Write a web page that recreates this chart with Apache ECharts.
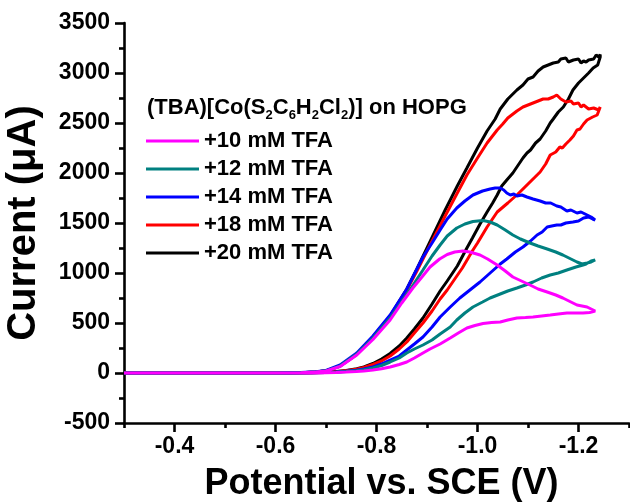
<!DOCTYPE html>
<html>
<head>
<meta charset="utf-8">
<script src="https://cdn.jsdelivr.net/npm/echarts@6/dist/echarts.min.js"></script>
<style>html,body{margin:0;padding:0;background:#fff;}#c{width:630px;height:504px;}</style>
</head>
<body>
<div id="c"></div>
<script>
// ---- data: [potential (V vs SCE), current (uA)] ----
const seriesNames = ['+10 mM TFA', '+12 mM TFA', '+14 mM TFA', '+18 mM TFA', '+20 mM TFA'];
const xMajorTicks = [-1.2, -1.0, -0.8, -0.6, -0.4];
const xMinorTicks = [-1.3, -1.1, -0.9, -0.7, -0.5, -0.3];

const tfa10Fwd = [[-0.30,0],[-0.60,0],[-0.65,3],[-0.68,9],[-0.70,20],[-0.728,65],[-0.761,180],[-0.793,335],[-0.827,530],[-0.850,700],[-0.872,850],[-0.89,960],[-0.906,1060],[-0.925,1140],[-0.940,1185],[-0.955,1210],[-0.971,1220],[-0.985,1210],[-1.005,1180],[-1.02,1140],[-1.039,1080],[-1.055,1020],[-1.070,960],[-1.087,920],[-1.104,880],[-1.12,840],[-1.138,810],[-1.155,780],[-1.169,750],[-1.185,710],[-1.197,680],[-1.207,670],[-1.217,660],[-1.225,640],[-1.233,620]];
const tfa10Rev = [[-1.233,615],[-1.222,605],[-1.209,600],[-1.19,600],[-1.177,600],[-1.16,590],[-1.144,580],[-1.127,570],[-1.11,560],[-1.095,555],[-1.078,550],[-1.06,530],[-1.045,510],[-1.028,505],[-1.011,495],[-0.995,475],[-0.979,450],[-0.962,400],[-0.946,350],[-0.926,290],[-0.906,240],[-0.892,200],[-0.875,150],[-0.860,110],[-0.845,85],[-0.827,60],[-0.81,42],[-0.793,30],[-0.775,20],[-0.76,14],[-0.74,9],[-0.72,5],[-0.70,3],[-0.67,1],[-0.63,0],[-0.60,0],[-0.30,0]];

const tfa12Fwd = [[-0.30,0],[-0.60,0],[-0.65,3],[-0.68,10],[-0.70,22],[-0.728,72],[-0.761,190],[-0.793,350],[-0.827,550],[-0.866,830],[-0.892,1030],[-0.91,1170],[-0.926,1280],[-0.94,1370],[-0.959,1450],[-0.975,1490],[-0.991,1515],[-1.011,1525],[-1.025,1510],[-1.039,1480],[-1.055,1430],[-1.07,1380],[-1.085,1340],[-1.104,1300],[-1.12,1270],[-1.138,1240],[-1.155,1210],[-1.169,1180],[-1.185,1140],[-1.197,1110],[-1.207,1090],[-1.217,1100],[-1.225,1110],[-1.233,1130]];
const tfa12Rev = [[-1.233,1125],[-1.225,1120],[-1.215,1090],[-1.209,1080],[-1.195,1060],[-1.177,1030],[-1.16,1000],[-1.144,980],[-1.127,950],[-1.11,910],[-1.095,880],[-1.078,850],[-1.06,820],[-1.045,790],[-1.025,750],[-1.01,710],[-0.991,660],[-0.975,600],[-0.959,530],[-0.946,460],[-0.926,390],[-0.91,330],[-0.892,280],[-0.875,240],[-0.860,200],[-0.845,150],[-0.827,110],[-0.81,75],[-0.793,50],[-0.775,33],[-0.76,23],[-0.74,14],[-0.72,8],[-0.70,4],[-0.67,2],[-0.63,1],[-0.60,0],[-0.30,0]];

const tfa14Fwd = [[-0.30,0],[-0.60,0],[-0.65,4],[-0.68,12],[-0.70,25],[-0.728,80],[-0.761,200],[-0.793,370],[-0.827,580],[-0.860,840],[-0.876,1000],[-0.892,1160],[-0.91,1300],[-0.926,1430],[-0.94,1540],[-0.959,1650],[-0.975,1720],[-0.991,1780],[-1.01,1820],[-1.025,1840],[-1.035,1850],[-1.045,1850],[-1.052,1830],[-1.058,1800],[-1.065,1780],[-1.072,1790],[-1.078,1770],[-1.088,1780],[-1.098,1760],[-1.11,1740],[-1.124,1720],[-1.135,1700],[-1.145,1700],[-1.157,1670],[-1.165,1660],[-1.177,1620],[-1.185,1630],[-1.197,1600],[-1.205,1610],[-1.217,1580],[-1.225,1560],[-1.233,1530]];
const tfa14Rev = [[-1.233,1520],[-1.228,1540],[-1.22,1560],[-1.21,1550],[-1.20,1520],[-1.189,1510],[-1.175,1500],[-1.165,1480],[-1.157,1480],[-1.147,1470],[-1.138,1460],[-1.128,1410],[-1.118,1380],[-1.105,1320],[-1.09,1260],[-1.075,1210],[-1.058,1140],[-1.045,1090],[-1.025,1000],[-1.005,910],[-0.985,830],[-0.965,750],[-0.946,660],[-0.926,560],[-0.91,460],[-0.892,360],[-0.875,290],[-0.860,230],[-0.845,170],[-0.827,130],[-0.81,90],[-0.793,60],[-0.775,40],[-0.76,28],[-0.74,17],[-0.72,10],[-0.70,5],[-0.67,2],[-0.63,1],[-0.60,0],[-0.30,0]];

const tfa18Fwd = [[-0.30,0],[-0.60,0],[-0.65,3],[-0.68,10],[-0.70,22],[-0.728,70],[-0.761,185],[-0.793,350],[-0.827,560],[-0.860,830],[-0.880,1020],[-0.90,1220],[-0.936,1570],[-0.96,1800],[-0.979,1980],[-1.00,2150],[-1.019,2300],[-1.039,2430],[-1.05,2490],[-1.06,2550],[-1.078,2620],[-1.09,2660],[-1.10,2680],[-1.11,2700],[-1.12,2720],[-1.13,2740],[-1.14,2740],[-1.15,2760],[-1.157,2780],[-1.165,2740],[-1.175,2710],[-1.185,2720],[-1.19,2690],[-1.20,2700],[-1.205,2660],[-1.21,2680],[-1.22,2640],[-1.23,2650],[-1.24,2630],[-1.243,2660]];
const tfa18Rev = [[-1.243,2640],[-1.237,2580],[-1.228,2560],[-1.217,2530],[-1.21,2490],[-1.203,2440],[-1.197,2430],[-1.19,2370],[-1.183,2330],[-1.175,2290],[-1.168,2250],[-1.163,2260],[-1.155,2210],[-1.144,2180],[-1.135,2090],[-1.124,2010],[-1.10,1890],[-1.08,1790],[-1.06,1700],[-1.039,1610],[-1.019,1460],[-1.00,1300],[-0.991,1230],[-0.97,1050],[-0.955,940],[-0.94,830],[-0.926,740],[-0.91,620],[-0.892,500],[-0.875,400],[-0.86,310],[-0.845,240],[-0.827,170],[-0.81,120],[-0.793,85],[-0.775,55],[-0.76,38],[-0.74,22],[-0.72,12],[-0.70,6],[-0.67,2],[-0.63,1],[-0.60,0],[-0.30,0]];

const tfa20Fwd = [[-0.30,0],[-0.60,0],[-0.65,3],[-0.68,10],[-0.70,22],[-0.728,70],[-0.761,190],[-0.793,360],[-0.827,570],[-0.860,840],[-0.880,1040],[-0.90,1250],[-0.936,1630],[-0.96,1870],[-0.979,2050],[-1.00,2250],[-1.019,2420],[-1.035,2540],[-1.045,2640],[-1.06,2740],[-1.078,2830],[-1.09,2880],[-1.10,2940],[-1.11,2960],[-1.12,3020],[-1.13,3060],[-1.14,3080],[-1.15,3100],[-1.16,3110],[-1.165,3140],[-1.175,3150],[-1.18,3110],[-1.19,3130],[-1.20,3140],[-1.205,3100],[-1.21,3120],[-1.215,3110],[-1.22,3130],[-1.23,3140],[-1.235,3180],[-1.24,3160],[-1.243,3185]];
const tfa20Rev = [[-1.243,3160],[-1.238,3080],[-1.229,3050],[-1.22,3000],[-1.21,2950],[-1.20,2900],[-1.189,2830],[-1.18,2740],[-1.17,2660],[-1.16,2610],[-1.15,2540],[-1.144,2500],[-1.135,2420],[-1.124,2340],[-1.115,2300],[-1.105,2230],[-1.098,2200],[-1.09,2150],[-1.078,2060],[-1.07,2000],[-1.058,1930],[-1.048,1870],[-1.039,1780],[-1.03,1700],[-1.019,1610],[-1.005,1490],[-0.99,1350],[-0.979,1250],[-0.96,1070],[-0.94,920],[-0.926,820],[-0.91,690],[-0.892,550],[-0.875,440],[-0.860,350],[-0.845,270],[-0.827,195],[-0.81,140],[-0.793,95],[-0.775,60],[-0.761,42],[-0.74,25],[-0.72,14],[-0.70,7],[-0.67,3],[-0.63,1],[-0.60,0],[-0.30,0]];

const colors = ['#FF00FF', '#008080', '#0000FF', '#FF0000', '#000000'];
const loops = [tfa10Fwd.concat(tfa10Rev), tfa12Fwd.concat(tfa12Rev), tfa14Fwd.concat(tfa14Rev), tfa18Fwd.concat(tfa18Rev), tfa20Fwd.concat(tfa20Rev)];

const FONT = 'Liberation Sans, Arial, sans-serif';
const chart = echarts.init(document.getElementById('c'), null, {renderer: 'canvas'});

const series = [];
for (let i = loops.length - 1; i >= 0; i--) {
  series.push({
    name: seriesNames[i], type: 'line', xAxisIndex: 0, yAxisIndex: 0,
    data: loops[i], symbol: 'none', showSymbol: false, smooth: false,
    lineStyle: {color: colors[i], width: 3}, itemStyle: {color: colors[i]},
    z: 10 - i
  });
}

chart.setOption({
  animation: false,
  backgroundColor: '#fff',
  grid: {left: 124, right: 1, top: 23, bottom: 81, containLabel: false, outerBoundsMode: 'none'},
  xAxis: [{
    type: 'value', min: -1.3, max: -0.3, inverse: true, position: 'bottom',
    name: 'Potential vs. SCE (V)', nameLocation: 'middle', nameGap: 43,
    nameTextStyle: {fontSize: 36, fontWeight: 'bold', color: '#000', fontFamily: FONT, padding: [0, 0, 0, 10]},
    axisLine: {show: true, onZero: false, lineStyle: {color: '#000', width: 2.6}},
    axisTick: {show: true, inside: false, length: 9, customValues: xMajorTicks, lineStyle: {color: '#000', width: 2.6}},
    axisLabel: {show: true, margin: 12, customValues: xMajorTicks, fontSize: 23, fontWeight: 'bold', color: '#000', fontFamily: FONT,
      formatter: v => v.toFixed(1)},
    splitLine: {show: false}
  }, {
    type: 'value', min: -1.3, max: -0.3, inverse: true, position: 'bottom',
    axisLine: {show: false, onZero: false},
    axisTick: {show: true, inside: false, length: 5, customValues: xMinorTicks, lineStyle: {color: '#000', width: 2.6}},
    axisLabel: {show: false},
    splitLine: {show: false}
  }],
  yAxis: {
    type: 'value', min: -500, max: 3500, interval: 500,
    name: 'Current (\u03bcA)', nameLocation: 'middle', nameGap: 80,
    nameTextStyle: {fontSize: 40, fontWeight: 'bold', color: '#000', fontFamily: FONT},
    axisLine: {show: true, onZero: false, lineStyle: {color: '#000', width: 2.6}},
    axisTick: {show: true, inside: false, length: 9, lineStyle: {color: '#000', width: 2.6}},
    minorTick: {show: true, splitNumber: 2, length: 5, lineStyle: {color: '#000', width: 2.6}},
    axisLabel: {margin: 14, fontSize: 23, fontWeight: 'bold', color: '#000', fontFamily: FONT,
      formatter: v => String(v)},
    splitLine: {show: false}
  },
  legend: {
    orient: 'vertical', left: 146, top: 130, itemWidth: 53, itemHeight: 3, itemGap: 6,
    icon: 'rect', padding: 0,
    textStyle: {fontSize: 22, fontWeight: 'bold', color: '#000', fontFamily: FONT, lineHeight: 22},
    data: seriesNames
  },
  graphic: [{
    type: 'text', left: 147, top: 97,
    style: {
      text: '(TBA)[Co(S{s|2}C{s|6}H{s|2}Cl{s|2})] on HOPG',
      font: 'bold 22px ' + FONT, fill: '#000',
      rich: {s: {fontSize: 13, fontWeight: 'bold', fontFamily: FONT, verticalAlign: 'bottom', lineHeight: 28}}
    }
  }],
  series: series
});
</script>
</body>
</html>
